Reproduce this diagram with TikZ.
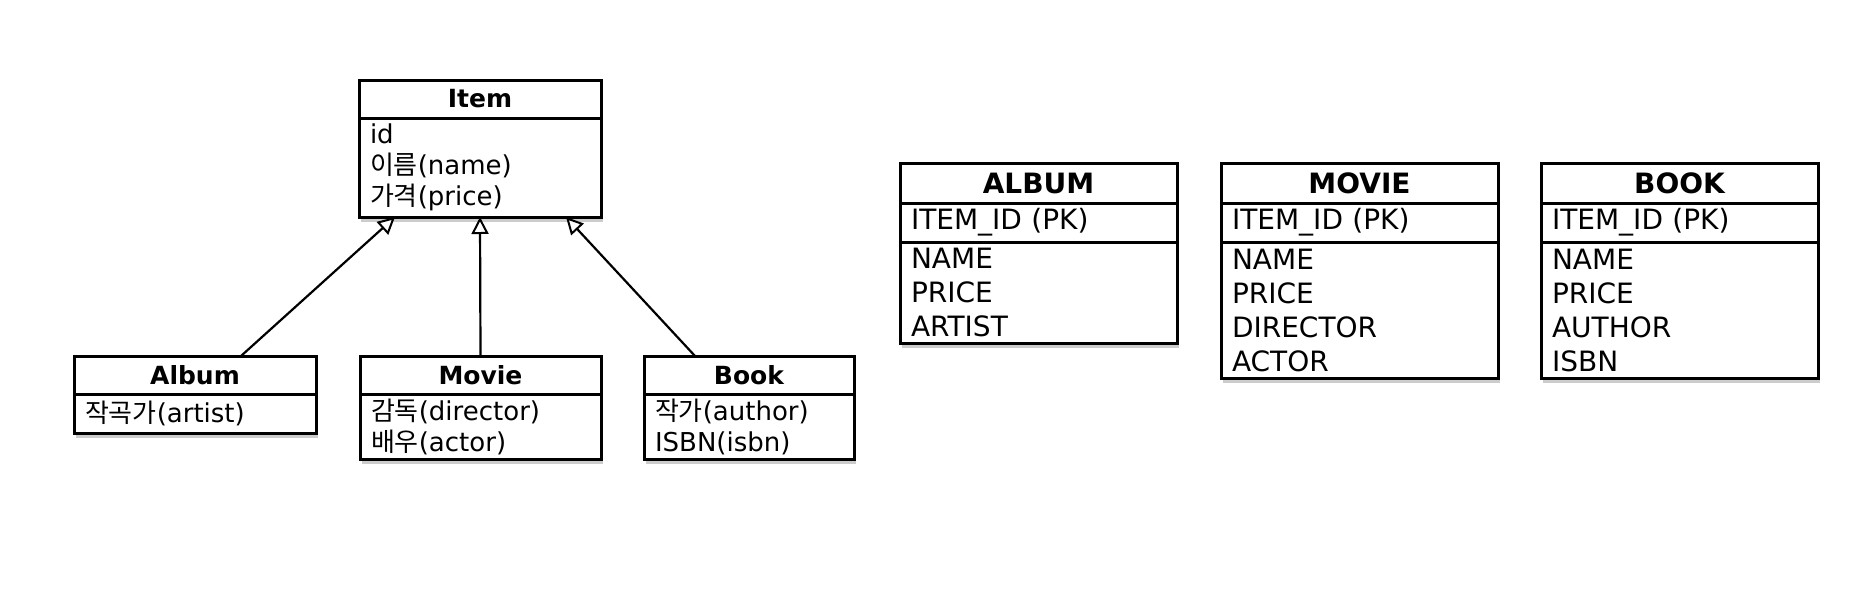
\documentclass[tikz,border=0pt]{standalone}
\usepackage{fontspec}
\setmainfont{DejaVu Sans}
\newfontfamily\kr{Noto Sans CJK KR}
\usepackage{tikz}
\usetikzlibrary{arrows.meta, positioning, shadows}

\begin{document}
\begin{tikzpicture}[
    x=1pt, y=-1pt,
    part/.style={rectangle, draw, line width=3pt, fill=white, inner sep=0pt, inner xsep=11pt, outer sep=0pt, text width=#1},
    umlhead/.style={part=#1, anchor=north west, align=center, minimum height=38pt, font=\bfseries\fontsize{25}{30}\selectfont},
    umlbody/.style={part=#1, align=left, font=\fontsize{26}{31}\selectfont},
    tblhead/.style={part=255pt, anchor=north west, align=center, minimum height=40pt, font=\bfseries\fontsize{28}{32}\selectfont},
    tblrow/.style={part=255pt, align=left, font=\fontsize{28}{34}\selectfont},
    boxshadow/.style={drop shadow={shadow xshift=1.5pt, shadow yshift=-5pt, opacity=0.4}},
    inherit/.style={-{Triangle[open, fill=white, length=17pt, width=17pt, line width=2pt]}, line width=2.2pt}
]
\useasboundingbox (0,0) rectangle (1850,600);

% Class diagram (left side)
\node[umlhead=220pt] (item-h) at (359,80) {Item};
\node[umlbody=220pt, minimum height=99pt, boxshadow, below=0pt of item-h] (item-b) {id\\{\kr 이름}(name)\\{\kr 가격}(price)};

\node[umlhead=220pt] (album-h) at (74,356) {Album};
\node[umlbody=220pt, minimum height=39pt, boxshadow, below=0pt of album-h] (album-b) {{\kr 작곡가}(artist)};

\node[umlhead=219pt] (movie-h) at (360,356) {Movie};
\node[umlbody=219pt, minimum height=65pt, boxshadow, below=0pt of movie-h] (movie-b) {{\kr 감독}(director)\\{\kr 배우}(actor)};

\node[umlhead=188pt] (book-h) at (644,356) {Book};
\node[umlbody=188pt, minimum height=65pt, boxshadow, below=0pt of book-h] (book-b) {{\kr 작가}(author)\\ISBN(isbn)};

% Inheritance arrows
\draw[inherit] ([xshift=46pt]album-h.north) -- ([xshift=-85pt]item-b.south);
\draw[inherit] (movie-h.north) -- (item-b.south);
\draw[inherit] ([xshift=-54pt]book-h.north) -- ([xshift=86pt]item-b.south);

% Tables (right side)
\node[tblhead] (album-t) at (900,163) {ALBUM};
\node[tblrow, minimum height=39pt, below=0pt of album-t] (album-pk) {ITEM\_ID (PK)};
\node[tblrow, minimum height=101pt, boxshadow, below=0pt of album-pk] (album-c) {NAME\\PRICE\\ARTIST};

\node[tblhead] (movie-t) at (1221,163) {MOVIE};
\node[tblrow, minimum height=39pt, below=0pt of movie-t] (movie-pk) {ITEM\_ID (PK)};
\node[tblrow, minimum height=136pt, boxshadow, below=0pt of movie-pk] (movie-c) {NAME\\PRICE\\DIRECTOR\\ACTOR};

\node[tblhead] (book-t) at (1541,163) {BOOK};
\node[tblrow, minimum height=39pt, below=0pt of book-t] (book-pk) {ITEM\_ID (PK)};
\node[tblrow, minimum height=136pt, boxshadow, below=0pt of book-pk] (book-c) {NAME\\PRICE\\AUTHOR\\ISBN};

\end{tikzpicture}
\end{document}
